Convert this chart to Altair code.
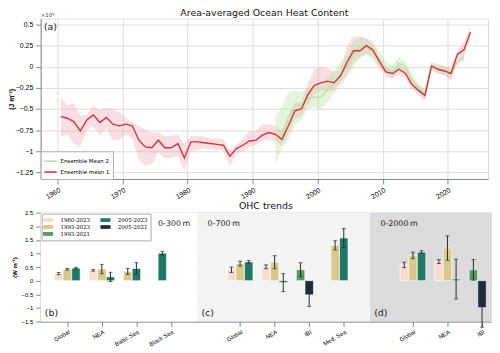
import json
import altair as alt
import pandas as pd

# ---------------- panel (a): area-averaged OHC (x1e9 J m-2) ----------------
years1 = list(range(1960, 2024))
mean1 = [-0.59, -0.61, -0.65, -0.76, -0.63, -0.57, -0.66, -0.60, -0.68, -0.70,
         -0.68, -0.70, -0.87, -0.95, -0.96, -0.87, -0.96, -0.96, -0.91, -1.08,
         -0.89, -0.89, -0.90, -0.91, -0.92, -0.93, -1.06, -0.97, -0.93, -0.88,
         -0.87, -0.81, -0.78, -0.80, -0.86, -0.70, -0.52, -0.50, -0.33, -0.22,
         -0.19, -0.17, -0.19, -0.11, 0.05, 0.19, 0.19, 0.25, 0.20, 0.06,
         -0.06, -0.08, -0.03, -0.08, -0.21, -0.28, -0.34, 0.01, -0.03, -0.05,
         -0.08, 0.15, 0.20, 0.41]
mean1_hi = [-0.36, -0.46, -0.43, -0.58, -0.57, -0.46, -0.51, -0.49, -0.50, -0.54,
            -0.61, -0.66, -0.70, -0.74, -0.78, -0.78, -0.82, -0.82, -0.80, -0.92,
            -0.82, -0.82, -0.83, -0.85, -0.85, -0.86, -0.99, -0.92, -0.85, -0.76,
            -0.76, -0.68, -0.68, -0.70, -0.76, -0.62, -0.43, -0.42, -0.20, -0.03,
            0.00, -0.02, -0.05, -0.05, 0.25, 0.36, 0.36, 0.34, 0.30, 0.12,
            -0.02, -0.04, 0.02, -0.03, -0.15, -0.22, -0.27, 0.06, 0.03, 0.01,
            0.00, 0.20, 0.30, 0.48]
mean1_lo = [-0.82, -0.80, -0.91, -0.95, -0.76, -0.70, -0.82, -0.73, -0.87, -0.87,
            -0.80, -0.86, -1.10, -1.18, -1.15, -1.02, -1.08, -1.08, -1.05, -1.24,
            -1.00, -0.98, -0.97, -0.98, -0.98, -0.99, -1.18, -1.03, -1.00, -0.95,
            -0.93, -0.88, -0.86, -0.88, -0.93, -0.79, -0.62, -0.58, -0.45, -0.33,
            -0.28, -0.30, -0.28, -0.18, -0.10, 0.05, 0.10, 0.15, 0.12, 0.00,
            -0.12, -0.14, -0.10, -0.14, -0.27, -0.34, -0.40, -0.03, -0.08, -0.10,
            -0.17, 0.08, 0.12, 0.34]

years2 = list(range(1993, 2023))
mean2 = [-0.87, -0.80, -0.59, -0.45, -0.46, -0.37, -0.36, -0.36, -0.27, -0.20,
         -0.09, 0.00, 0.14, 0.25, 0.24, 0.16, 0.09, -0.01, -0.06, 0.04,
         0.00, -0.15, -0.26, -0.32, 0.00, -0.03, -0.05, -0.08, 0.06, 0.11]
mean2_hi = [-0.59, -0.47, -0.30, -0.28, -0.30, -0.25, -0.22, -0.20, -0.12, -0.05,
            0.05, 0.15, 0.30, 0.35, 0.33, 0.27, 0.18, 0.05, 0.02, 0.12,
            0.06, -0.09, -0.20, -0.26, 0.04, 0.02, 0.00, -0.03, 0.10, 0.15]
mean2_lo = [-1.16, -0.95, -0.87, -0.70, -0.62, -0.50, -0.48, -0.50, -0.42, -0.33,
            -0.22, -0.12, 0.00, 0.12, 0.15, 0.07, -0.02, -0.08, -0.12, -0.04,
            -0.07, -0.22, -0.32, -0.38, -0.05, -0.08, -0.10, -0.14, 0.02, 0.07]

series_names = ['Ensemble Mean 2', 'Ensemble mean 1']
line_colors = ['#bfe0a6', '#d8323f']
band_colors = ['#b2dc9c', '#f0a3ab']
year_ticks = [1960, 1970, 1980, 1990, 2000, 2010, 2020]
ohc_ticks = [0.5, 0.25, 0, -0.25, -0.5, -0.75, -1, -1.25]

# ---------------- panels (b)-(d): OHC trends (W m-2) ----------------
group_labels = ['Global', 'NEA', 'Baltic Sea', 'Black Sea', '',
                'Global', 'NEA', 'IBI', 'Med. Sea', '',
                'Global', 'NEA', 'IBI']
bar_group = [0, 0, 0, 1, 1, 1, 2, 2, 3,
             5, 5, 5, 6, 6, 6, 7, 7, 8, 8,
             10, 10, 10, 11, 11, 11, 12, 12]
bar_slot = [0, 1, 2, 0, 1, 2, 0, 1, 0,
            0, 1, 2, 0, 1, 2, 0, 1, 0, 1,
            0, 1, 2, 0, 1, 2, 0, 1]
bar_period = ['1960-2023', '1993-2023', '2005-2023', '1960-2023', '1993-2023', '2005-2023',
              '1993-2023', '2005-2023', '2005-2023',
              '1960-2023', '1993-2023', '2005-2023', '1960-2023', '1993-2023', '2005-2023',
              '1993-2021', '2005-2021', '1993-2023', '2005-2023',
              '1960-2023', '1993-2023', '2005-2023', '1960-2023', '1993-2023', '2005-2023',
              '1993-2021', '2005-2021']
bar_value = [0.26, 0.42, 0.46, 0.38, 0.43, 0.14, 0.34, 0.45, 1.01,
             0.40, 0.63, 0.69, 0.51, 0.68, -0.07, 0.40, -0.52, 1.30, 1.57,
             0.58, 0.93, 1.05, 0.70, 1.20, 0.06, 0.40, -0.99]
bar_err = [0.04, 0.03, 0.03, 0.03, 0.17, 0.17, 0.11, 0.21, 0.07,
           0.10, 0.09, 0.05, 0.07, 0.24, 0.33, 0.26, 0.43, 0.17, 0.35,
           0.10, 0.12, 0.05, 0.07, 0.45, 0.73, 0.38, 0.72]
periods = ['1960-2023', '1993-2023', '1993-2021', '2005-2023', '2005-2021']
period_colors = ['#f8dccf', '#d6c98a', '#4f9c64', '#1e7a65', '#1b2e3a']
panel_groups = [[0, 1, 2, 3], [5, 6, 7, 8], [10, 11, 12]]
panel_depth = ['0-300\u2009m', '0-700\u2009m', '0-2000\u2009m']
panel_tag = ['(b)', '(c)', '(d)']
panel_bg = ['#ffffff', '#f3f3f3', '#dbdbdb']
trend_ticks = [2.5, 2, 1.5, 1, 0.5, 0, -0.5, -1, -1.5]

FONT = 'DejaVu Sans'
NUM_EXPR = "replace(toString(datum.value), '-', '\u2212')"

# ================= top chart =================
df1 = pd.DataFrame({'year': years1, 'mean': mean1, 'lo': mean1_lo, 'hi': mean1_hi,
                    'series': series_names[1]})
df2 = pd.DataFrame({'year': years2, 'mean': mean2, 'lo': mean2_lo, 'hi': mean2_hi,
                    'series': series_names[0]})

TOP_H = 162
xdom = [1957.4, 2026.2]
ydom = [-1.33, 0.57]
xs = alt.Scale(domain=xdom, nice=False, zero=False)
ys = alt.Scale(domain=ydom, nice=False, zero=False)
xaxis = alt.Axis(values=year_ticks, format='d', labelAngle=-30, labelFontSize=7,
                 labelPadding=2, title=None, labelOverlap=False)
yaxis = alt.Axis(values=ohc_ticks, labelExpr=NUM_EXPR, labelFontSize=7, labelPadding=3,
                 title='(J m\u207b\u00b2)', titleFontSize=7, titleFontWeight='bold',
                 titlePadding=1, labelOverlap=False)
band_names = [n + ' spread' for n in series_names]
fill_scale = alt.Scale(domain=band_names, range=band_colors)
col_scale = alt.Scale(domain=series_names, range=line_colors)


def band(df):
    return alt.Chart(df).transform_calculate(
        t='datum.year + 0.5', band="datum.series + ' spread'").mark_area(
        opacity=0.35).encode(x=alt.X('t:Q', scale=xs, axis=xaxis),
                             y=alt.Y('lo:Q', scale=ys, axis=yaxis),
                             y2='hi:Q', fill=alt.Fill('band:N', scale=fill_scale, legend=None))


def line(df):
    return alt.Chart(df).transform_calculate(t='datum.year + 0.5').mark_line(
        strokeWidth=1.4).encode(
        x=alt.X('t:Q', scale=xs, axis=xaxis), y=alt.Y('mean:Q', scale=ys, axis=yaxis),
        color=alt.Color('series:N', scale=col_scale,
                        legend=alt.Legend(title=None, orient='bottom-left', offset=0,
                                          symbolType='stroke', symbolSize=150,
                                          symbolStrokeWidth=1.6, labelFontSize=5.5,
                                          labelOffset=3, labelFont=FONT, padding=3,
                                          rowPadding=0, strokeColor='#b0b0b0',
                                          fillColor='white')))


ann_a = pd.DataFrame({'text': ['(a)'], 'x': [1957.9], 'y': [0.47]})
tag_a = alt.Chart(ann_a).mark_text(align='left', baseline='middle', fontSize=9.5,
                                   font=FONT, color='#222').encode(
    x=alt.X('x:Q', scale=xs, axis=xaxis), y=alt.Y('y:Q', scale=ys, axis=yaxis), text='text:N')
ann_e = pd.DataFrame({'text': ['\u00d710\u2079'], 'x': [1957.4], 'y': [0.57]})
exp_lbl = alt.Chart(ann_e).mark_text(align='left', baseline='bottom', fontSize=5.5, dy=-1,
                                     font=FONT, color='#444').encode(
    x=alt.X('x:Q', scale=xs, axis=xaxis), y=alt.Y('y:Q', scale=ys, axis=yaxis), text='text:N')

top = alt.layer(band(df1), band(df2), line(df2), line(df1), tag_a, exp_lbl).properties(
    width=452, height=TOP_H,
    title=alt.Title('Area-averaged Ocean Heat Content', fontSize=9.5, fontWeight='normal',
                    font=FONT, offset=-5, frame='group', color='#111'))

# ================= bottom chart =================
bars_df = pd.DataFrame({'group': bar_group, 'slot': bar_slot, 'period': bar_period,
                        'value': bar_value, 'err': bar_err})
first_g = panel_groups[0][0]
last_g = panel_groups[-1][-1]
bxdom = [first_g - 0.77, last_g + 0.26]
bydom = [-1.5, 2.5]

edges = [bxdom[0]] + [pg[-1] + 0.76 for pg in panel_groups[:-1]] + [bxdom[1]]
bg_df = pd.DataFrame({'x0': edges[:-1], 'x1': edges[1:], 'y0': bydom[0], 'y1': bydom[1],
                      'bg': panel_bg, 'depth': panel_depth, 'tag': panel_tag})

bx = alt.Scale(domain=bxdom, nice=False, zero=False)
by = alt.Scale(domain=bydom, nice=False, zero=False)
lab_expr = json.dumps(group_labels) + '[datum.value]'
tick_vals = [g for pg in panel_groups for g in pg]
bxaxis = alt.Axis(values=tick_vals, labelExpr=lab_expr, labelAngle=-30, labelFontSize=6,
                  labelPadding=2, title=None, labelOverlap=False)
byaxis = alt.Axis(values=trend_ticks, labelExpr=NUM_EXPR, labelFontSize=6, labelPadding=3,
                  title='(W m\u207b\u00b2)', titleFontSize=6, titleFontWeight='bold',
                  titlePadding=4, labelOverlap=False)

bg = alt.Chart(bg_df).mark_rect(strokeWidth=0).encode(
    x=alt.X('x0:Q', scale=bx, axis=bxaxis), x2='x1:Q',
    y=alt.Y('y0:Q', scale=by, axis=byaxis), y2='y1:Q',
    fill=alt.Fill('bg:N', scale=None, legend=None))

bar_base = alt.Chart(bars_df).transform_calculate(
    xc='datum.group + (datum.slot - 1) * 0.25',
    x0='datum.group + (datum.slot - 1) * 0.25 - 0.122',
    x1='datum.group + (datum.slot - 1) * 0.25 + 0.122',
    lo='datum.value - datum.err',
    hi='datum.value + datum.err',
    zero='0')

bars = bar_base.mark_rect(stroke='white', strokeWidth=0.6).encode(
    x=alt.X('x0:Q', scale=bx, axis=bxaxis), x2='x1:Q',
    y=alt.Y('zero:Q', scale=by, axis=byaxis), y2='value:Q',
    color=alt.Color('period:N', scale=alt.Scale(domain=periods, range=period_colors),
                    legend=alt.Legend(title=None, orient='top-left', columns=2, offset=1,
                                      symbolType='M-1.6,-0.6H1.6V0.6H-1.6Z', symbolSize=40,
                                      symbolStrokeWidth=0, labelFontSize=5.5, labelOffset=9,
                                      labelFont='DejaVu Serif', padding=3, rowPadding=0,
                                      columnPadding=10, strokeColor='#aaaaaa',
                                      fillColor='white')))
err_rule = bar_base.mark_rule(color='#2b2b2b', strokeWidth=1).encode(
    x=alt.X('xc:Q', scale=bx, axis=bxaxis), y=alt.Y('lo:Q', scale=by, axis=byaxis), y2='hi:Q')
cap_lo = bar_base.mark_tick(orient='horizontal', size=4, thickness=1, color='#2b2b2b').encode(
    x=alt.X('xc:Q', scale=bx, axis=bxaxis), y=alt.Y('lo:Q', scale=by, axis=byaxis))
cap_hi = bar_base.mark_tick(orient='horizontal', size=4, thickness=1, color='#2b2b2b').encode(
    x=alt.X('xc:Q', scale=bx, axis=bxaxis), y=alt.Y('hi:Q', scale=by, axis=byaxis))

depth_first = alt.Chart(bg_df.iloc[:1]).transform_calculate(
    tx='datum.x1 - 0.2', ty='2.1').mark_text(
    align='right', baseline='middle', fontSize=8, font=FONT, color='#222').encode(
    x=alt.X('tx:Q', scale=bx, axis=bxaxis), y=alt.Y('ty:Q', scale=by, axis=byaxis),
    text='depth:N')
depth_rest = alt.Chart(bg_df.iloc[1:]).transform_calculate(
    tx='datum.x0 + 0.3', ty='2.1').mark_text(
    align='left', baseline='middle', fontSize=8, font=FONT, color='#222').encode(
    x=alt.X('tx:Q', scale=bx, axis=bxaxis), y=alt.Y('ty:Q', scale=by, axis=byaxis),
    text='depth:N')
tags = alt.Chart(bg_df).transform_calculate(
    tx='datum.x0 + 0.12', ty='-1.2').mark_text(
    align='left', baseline='middle', fontSize=9.5, font=FONT, color='#222').encode(
    x=alt.X('tx:Q', scale=bx, axis=bxaxis), y=alt.Y('ty:Q', scale=by, axis=byaxis),
    text='tag:N')

bottom = alt.layer(bg, bars, err_rule, cap_lo, cap_hi, depth_first, depth_rest, tags).properties(
    width=455, height=110,
    title=alt.Title('OHC trends', fontSize=9.5, fontWeight='normal', font=FONT, offset=-1,
                    frame='group', color='#111'))

chart = alt.vconcat(top, bottom, spacing=0).resolve_scale(
    x='independent', y='independent', color='independent', fill='independent'
).resolve_legend(color='independent', fill='independent').properties(
    padding={'top': -2, 'left': -2, 'right': 0, 'bottom': 0}).configure_axis(
    grid=True, gridColor='#ececec', gridWidth=0.8, domain=False, ticks=False,
    labelColor='#222', labelFont=FONT, titleFont=FONT, titleColor='#222'
).configure_view(stroke='#dddddd', strokeWidth=1).configure(background='white')

chart.save('out.html', embed_options={'renderer': 'svg', 'actions': False})
